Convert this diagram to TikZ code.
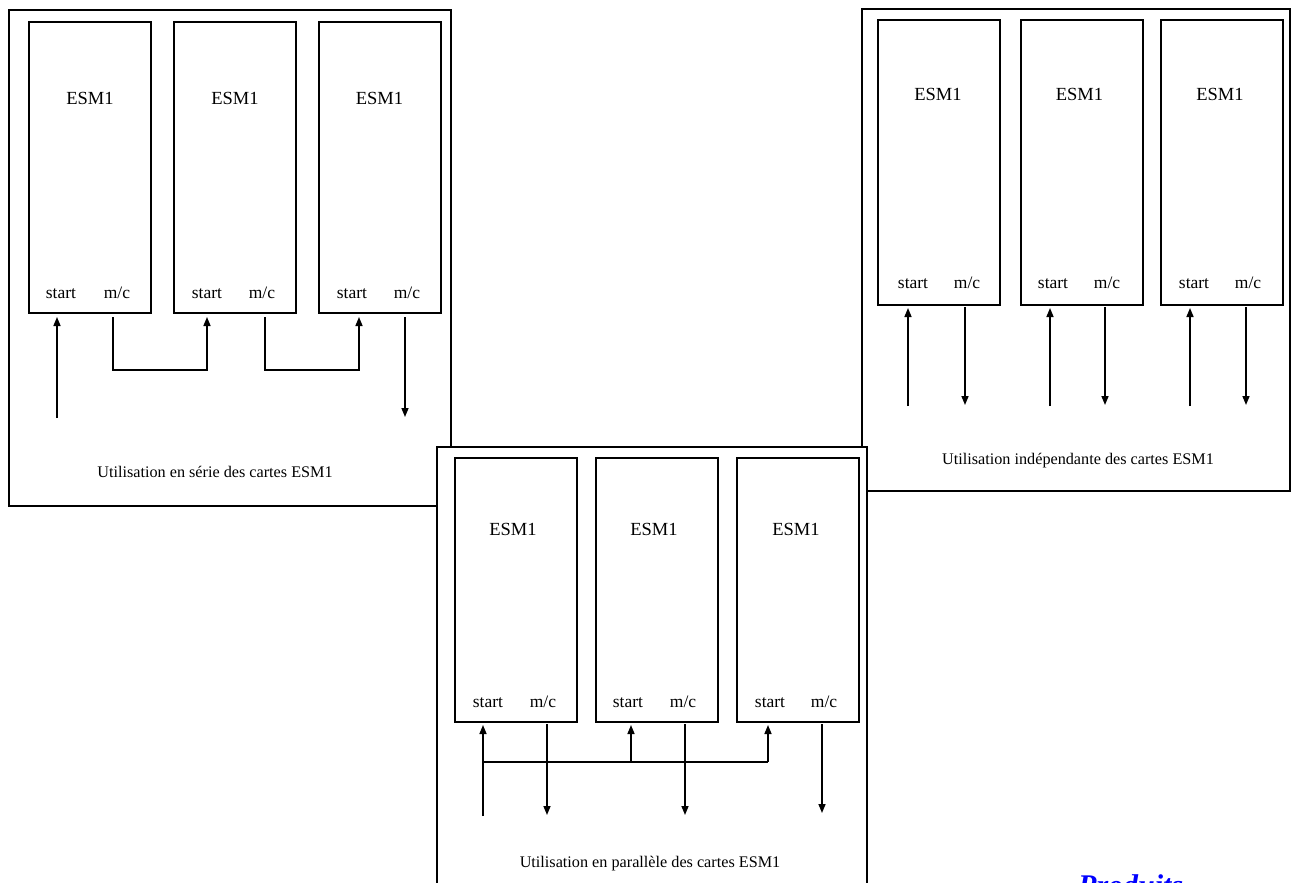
\documentclass[tikz,border=0pt]{standalone}
\usepackage{fontspec}
\setmainfont{Liberation Serif}
\usetikzlibrary{arrows.meta}
\begin{document}
\begin{tikzpicture}[x=1pt,y=-1pt,
  frame/.style={draw, line width=2pt, fill=white, inner sep=0pt},
  card/.style={draw, line width=2pt, minimum width=122pt, inner sep=0pt},
  title/.style={font=\fontsize{18.5}{20}\selectfont, inner sep=0pt, anchor=base},
  port/.style={font=\fontsize{17.5}{19}\selectfont, inner sep=0pt, anchor=base},
  caption/.style={font=\fontsize{16.2}{18}\selectfont, inner sep=0pt, anchor=base},
  sig/.style={line width=1.5pt},
  arr/.style={sig, -{Triangle[length=9pt,width=7pt]}},
]
\useasboundingbox (0,0) rectangle (1291,883);
\clip (0,0) rectangle (1291,883);
\fill[white] (0,0) rectangle (1291,883);

% ---------- left frame: serie ----------
\node[frame, minimum width=442pt, minimum height=496pt] (FL) at (230,258) {};
\node[card, minimum height=291pt] (L1) at (90,167.5) {};
\node[card, minimum height=291pt] (L2) at (235,167.5) {};
\node[card, minimum height=291pt] (L3) at (380,167.5) {};
\node[title] (L1t) at (90,104) {ESM1};
\node[title] (L2t) at (235,104) {ESM1};
\node[title] (L3t) at (379.5,104) {ESM1};
\node[port] (L1s) at (61,298) {start};
\node[port] (L1m) at (117,298) {m/c};
\node[port] (L2s) at (207,298) {start};
\node[port] (L2m) at (262,298) {m/c};
\node[port] (L3s) at (352,298) {start};
\node[port] (L3m) at (407,298) {m/c};
\coordinate (Lin) at (57,418);
\coordinate (Lout) at (405,417);
\draw[arr, shorten >=3pt] (Lin) -- (Lin |- L1.south);
\draw[arr, shorten <=3pt, shorten >=3pt] ([xshift=23pt]L1.south) -- ++(0,56) -| ([xshift=-28pt]L2.south);
\draw[arr, shorten <=3pt, shorten >=3pt] ([xshift=30pt]L2.south) -- ++(0,56) -| ([xshift=-21pt]L3.south);
\draw[arr, shorten <=3pt] ([xshift=25pt]L3.south) -- (Lout);
\node[caption] (Lcap) at (215,477) {Utilisation en série des cartes ESM1};

% ---------- right frame: independante ----------
\node[frame, minimum width=428pt, minimum height=482pt] (FR) at (1076,250) {};
\node[card, minimum height=285pt] (R1) at (939,162.5) {};
\node[card, minimum height=285pt] (R2) at (1082,162.5) {};
\node[card, minimum height=285pt] (R3) at (1222,162.5) {};
\node[title] (R1t) at (938,100) {ESM1};
\node[title] (R2t) at (1079.5,100) {ESM1};
\node[title] (R3t) at (1220,100) {ESM1};
\node[port] (R1s) at (913,288) {start};
\node[port] (R1m) at (967,288) {m/c};
\node[port] (R2s) at (1053,288) {start};
\node[port] (R2m) at (1107,288) {m/c};
\node[port] (R3s) at (1194,288) {start};
\node[port] (R3m) at (1248,288) {m/c};
\coordinate (R1in) at (908,406);
\coordinate (R1out) at (965,405);
\coordinate (R2in) at (1050,406);
\coordinate (R2out) at (1105,405);
\coordinate (R3in) at (1190,406);
\coordinate (R3out) at (1246,405);
\draw[arr, shorten >=2pt] (R1in) -- (R1in |- R1.south);
\draw[arr, shorten <=1pt] (R1out |- R1.south) -- (R1out);
\draw[arr, shorten >=2pt] (R2in) -- (R2in |- R2.south);
\draw[arr, shorten <=1pt] (R2out |- R2.south) -- (R2out);
\draw[arr, shorten >=2pt] (R3in) -- (R3in |- R3.south);
\draw[arr, shorten <=1pt] (R3out |- R3.south) -- (R3out);
\node[caption] (Rcap) at (1078,464) {Utilisation indépendante des cartes ESM1};

% ---------- middle frame: parallele ----------
\node[frame, minimum width=430pt, minimum height=473pt] (FM) at (652,683.5) {};
\node[card, minimum height=264pt] (M1) at (516,590) {};
\node[card, minimum height=264pt] (M2) at (657,590) {};
\node[card, minimum height=264pt] (M3) at (798,590) {};
\node[title] (M1t) at (513,535) {ESM1};
\node[title] (M2t) at (654,535) {ESM1};
\node[title] (M3t) at (796,535) {ESM1};
\node[port] (M1s) at (488,707) {start};
\node[port] (M1m) at (543,707) {m/c};
\node[port] (M2s) at (628,707) {start};
\node[port] (M2m) at (683,707) {m/c};
\node[port] (M3s) at (770,707) {start};
\node[port] (M3m) at (824,707) {m/c};
\coordinate (Min) at (483,816);
\coordinate (busM) at (631,762);
\coordinate (busR) at (768,762);
\coordinate (M1out) at (547,815);
\coordinate (M2out) at (685,815);
\coordinate (M3out) at (822,813);
\draw[arr, shorten >=2pt] (Min) -- (Min |- M1.south);
\draw[sig] (Min |- busR) -- (busR);
\draw[arr, shorten >=2pt] (busM) -- (busM |- M2.south);
\draw[arr, shorten >=2pt] (busR) -- (busR |- M3.south);
\draw[arr, shorten <=1pt] (M1out |- M1.south) -- (M1out);
\draw[arr, shorten <=1pt] (M2out |- M2.south) -- (M2out);
\draw[arr, shorten <=1pt] (M3out |- M3.south) -- (M3out);
\node[caption] (Mcap) at (650,867) {Utilisation en parallèle des cartes ESM1};

% ---------- blue heading, cut at the bottom as in the source ----------
\node[anchor=base west, inner sep=0pt, text=blue, font=\fontsize{30}{32}\selectfont\bfseries\itshape] (prod) at (1078,895) {Produits};
\end{tikzpicture}
\end{document}
